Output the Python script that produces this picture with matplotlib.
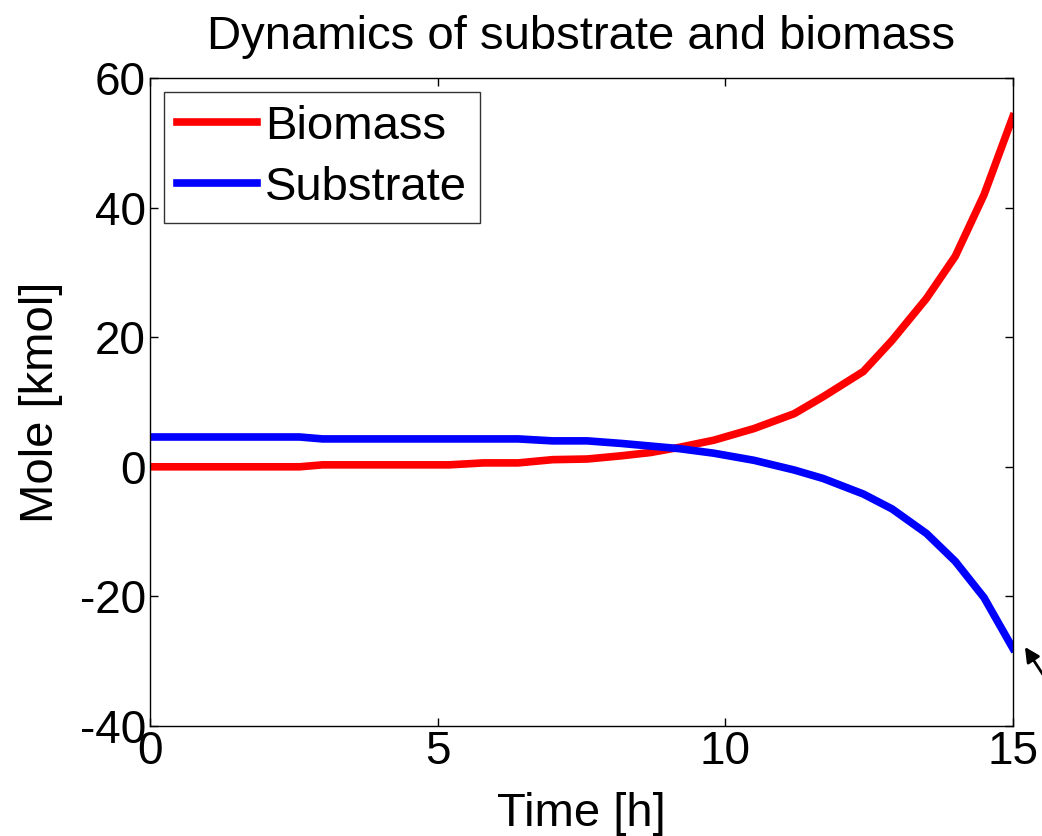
import numpy as np
import matplotlib
matplotlib.use('Agg')
import matplotlib.pyplot as plt

plt.rcParams['font.family'] = ['Liberation Sans', 'DejaVu Sans']
plt.rcParams['axes.unicode_minus'] = False

# data
time_h = [0, 2.6, 3.0, 5.2, 5.8, 6.4, 7.0, 7.6, 8.2, 8.7, 9.2, 9.8, 10.5,
          11.2, 11.7, 12.4, 12.9, 13.5, 14.0, 14.5, 15.0]
biomass = [0, 0, 0.3, 0.3, 0.6, 0.6, 1.1, 1.2, 1.7, 2.2, 3.0, 4.1, 5.9,
           8.2, 10.8, 14.7, 19.5, 26.0, 32.5, 42.0, 54.0]
substrate = [4.6, 4.6, 4.3, 4.3, 4.3, 4.3, 4.0, 4.0, 3.6, 3.2, 2.8, 2.1, 1.0,
             -0.5, -1.8, -4.2, -6.5, -10.3, -14.6, -20.2, -28.0]

fig = plt.figure(figsize=(10.42, 8.36), dpi=100)
ax = fig.add_axes([0.144, 0.1316, 0.828, 0.7751])

ax.plot(time_h, biomass, color='red', linewidth=5.5, label='Biomass')
ax.plot(time_h, substrate, color='blue', linewidth=5.5, label='Substrate')

ax.set_xlim(0, 15)
ax.set_ylim(-40, 60)
ax.set_xticks([0, 5, 10, 15])
ax.set_yticks([-40, -20, 0, 20, 40, 60])
ax.tick_params(direction='in', length=6, width=1, labelsize=33,
               top=True, right=True, pad=3)
for s in ax.spines.values():
    s.set_linewidth(1)

ax.set_xlabel('Time [h]', fontsize=34, labelpad=13)
ax.set_ylabel('Mole [kmol]', fontsize=34, labelpad=12)
ax.set_title('Dynamics of substrate and biomass', fontsize=34, pad=21)

leg = ax.legend(loc='upper left', fontsize=34, frameon=True, fancybox=False,
                edgecolor='black', handlelength=1.7, handletextpad=0.17,
                borderpad=0.27, labelspacing=0.36, borderaxespad=0.3)
leg.get_frame().set_linewidth(1)

# arrow at the end of the substrate curve
ax.annotate('', xy=(15.21, -27.8), xytext=(15.85, -36.5),
            arrowprops=dict(arrowstyle='-|>', color='black', lw=2,
                            mutation_scale=22, shrinkA=0, shrinkB=0),
            annotation_clip=False)

fig.savefig('out.png', dpi=100)
